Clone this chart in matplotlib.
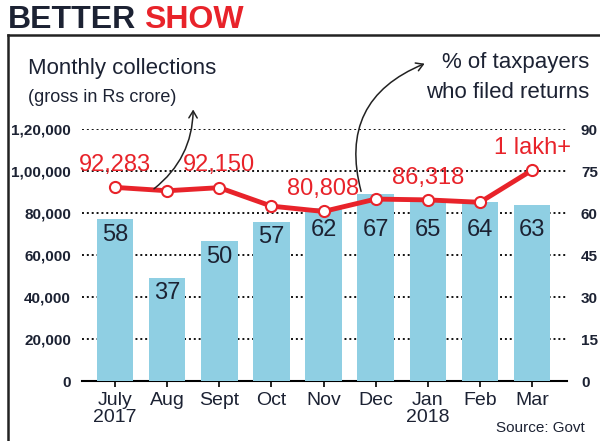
import matplotlib
matplotlib.use("Agg")
import matplotlib.pyplot as plt
from matplotlib.patches import FancyArrowPatch
from matplotlib.lines import Line2D

plt.rcParams["font.family"] = ["Liberation Sans", "DejaVu Sans"]

# data
months = ["July\n2017", "Aug", "Sept", "Oct", "Nov", "Dec", "Jan\n2018", "Feb", "Mar"]
filed_pct = [58, 37, 50, 57, 62, 67, 65, 64, 63]
collections = [92283, 90669, 92150, 83346, 80808, 86703, 86318, 85174, 100500]
collection_labels = ["92,283", "", "92,150", "", "80,808", "", "86,318", "", "1 lakh+"]
left_ticks = [0, 20000, 40000, 60000, 80000, 100000, 120000]
left_tick_labels = ["0", "20,000", "40,000", "60,000", "80,000", "1,00,000", "1,20,000"]
right_ticks = [0, 15, 30, 45, 60, 75, 90]

BAR = "#8fcfe3"
RED = "#e8232a"
NAVY = "#1c2233"

fig = plt.figure(figsize=(6, 4.41), dpi=100)
ax = fig.add_axes([0.137, 0.136, 0.808, 0.571])
ax2 = ax.twinx()

# bars: % of taxpayers (right scale)
x = list(range(len(months)))
ax2.bar(x, filed_pct, width=0.7, color=BAR, zorder=2)
for xi, v in zip(x, filed_pct):
    # labels sit inside the bar, kept below the red line
    ax2.text(xi, min(v - 5.7, 54), str(v), ha="center", va="center", fontsize=17,
             color=NAVY, zorder=5)

# dotted grid lines on left scale (behind bars)
for t in left_ticks[1:]:
    ax.axhline(t, color="#111111", linestyle=(0, (1.0, 1.5)), linewidth=1.4, zorder=0)

ax2.set_ylim(0, 90)
ax.set_ylim(0, 120000)
ax.set_xlim(-0.63, 8.67)

# line: collections (left scale), converted to right-axis units for drawing on top
line_y = [c / 120000 * 90 for c in collections]
ax2.plot(x, line_y, color=RED, linewidth=3.5, zorder=3)
ax2.plot(x, line_y, "o", markersize=8, markerfacecolor="white",
         markeredgecolor=RED, markeredgewidth=1.5, zorder=4)
for xi, ly, lab in zip(x, line_y, collection_labels):
    if lab:
        ax2.text(xi, ly + 4, lab, ha="center", va="bottom", fontsize=17,
                 color=RED, zorder=5, clip_on=False)

# axes styling
ax.set_yticks(left_ticks)
ax.set_yticklabels(left_tick_labels, fontsize=11, fontweight="bold", color=NAVY)
ax2.set_yticks(right_ticks)
ax2.set_yticklabels([str(t) for t in right_ticks], fontsize=11, fontweight="bold", color=NAVY)
ax.set_xticks(x)
ax.set_xticklabels(months, fontsize=14, color=NAVY, linespacing=1.0)
ax.tick_params(axis="y", length=0, pad=8)
ax2.tick_params(axis="y", length=0, pad=10)
ax.tick_params(axis="x", length=4, width=1.2, color="black", pad=4)
for a in (ax, ax2):
    for s in ("top", "left", "right"):
        a.spines[s].set_visible(False)
ax.spines["bottom"].set_linewidth(1.5)
ax2.spines["bottom"].set_visible(False)
ax.set_zorder(ax2.get_zorder() - 1)
ax.patch.set_visible(False)
ax2.patch.set_visible(False)

# frame around the chart
fig.add_artist(Line2D([0.013, 0.013], [0.0, 0.92], color="#222222", linewidth=1.8))
fig.add_artist(Line2D([0.013, 1.0], [0.92, 0.92], color="#222222", linewidth=1.8))

# title
better = fig.text(0.013, 0.955, "BETTER", fontsize=23, fontweight="bold", color=NAVY, va="center")
ax.annotate("SHOW", xy=(1, 0), xycoords=better, xytext=(6, 0), textcoords="offset points",
            fontsize=23, fontweight="bold", color=RED, va="bottom", annotation_clip=False)

# axis captions
fig.text(0.047, 0.845, "Monthly collections", fontsize=16, color=NAVY, va="center")
fig.text(0.047, 0.78, "(gross in Rs crore)", fontsize=13, color=NAVY, va="center")
fig.text(0.982, 0.858, "% of taxpayers", fontsize=16, color=NAVY, va="center", ha="right")
fig.text(0.982, 0.79, "who filed returns", fontsize=16, color=NAVY, va="center", ha="right")
fig.text(0.975, 0.03, "Source: Govt", fontsize=11, color=NAVY, va="center", ha="right")

# curved arrows
fig.add_artist(FancyArrowPatch((0.253, 0.568), (0.322, 0.758),
                               connectionstyle="arc3,rad=0.25", arrowstyle="->,head_length=5,head_width=3",
                               color="#222222", linewidth=1.1, transform=fig.transFigure))
fig.add_artist(FancyArrowPatch((0.603, 0.56), (0.712, 0.858),
                               connectionstyle="arc3,rad=-0.45", arrowstyle="->,head_length=5,head_width=3",
                               color="#222222", linewidth=1.1, transform=fig.transFigure))

fig.savefig("out.png", dpi=100)
